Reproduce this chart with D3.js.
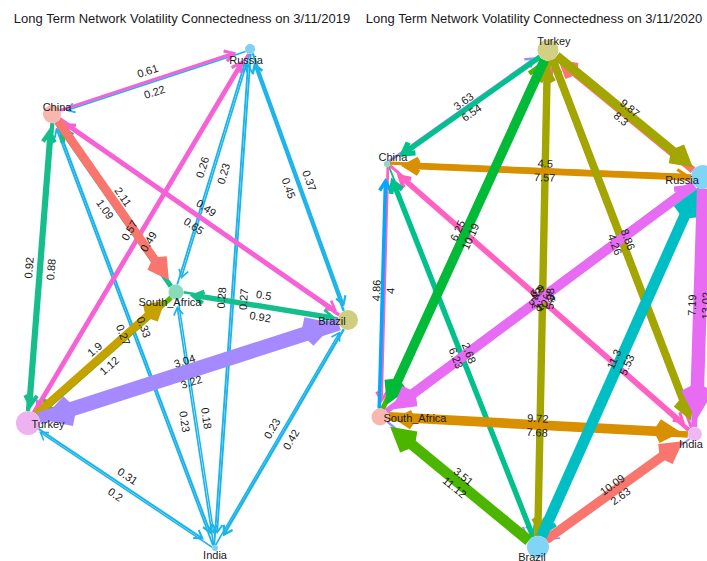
<!DOCTYPE html>
<meta charset="utf-8">
<head>
  <title>Long Term Network Volatility Connectedness</title>
</head>
<style>
    body {
        margin: 0;
        background-color: #ffffff;
    }
    svg text {
        font-family: "Liberation Sans", Arial, sans-serif;
        fill: #1a1a1a;
    }
</style>
<body>
    <svg id="chart" width="707" height="561"></svg>

    <script src="https://d3js.org/d3.v7.min.js"></script>

    <script>
        // ---- data ----
        var countries = ["Russia", "China", "South_Africa", "Brazil", "Turkey", "India"];

        var title2019 = "Long Term Network Volatility Connectedness on 3/11/2019";
        var title2020 = "Long Term Network Volatility Connectedness on 3/11/2020";

        // [from, to, connectedness]
        var edges2019 = [
            ["China", "Russia", 0.61], ["Russia", "China", 0.22],
            ["Turkey", "China", 0.92], ["China", "Turkey", 0.88],
            ["South_Africa", "China", 1.09], ["China", "South_Africa", 2.11],
            ["China", "India", 0.33], ["India", "China", 0.27],
            ["China", "Brazil", 0.49], ["Brazil", "China", 0.65],
            ["Turkey", "Russia", 0.57], ["Russia", "Turkey", 0.49],
            ["Russia", "South_Africa", 0.23], ["South_Africa", "Russia", 0.26],
            ["Russia", "India", 0.27], ["India", "Russia", 0.28],
            ["Russia", "Brazil", 0.37], ["Brazil", "Russia", 0.45],
            ["Turkey", "South_Africa", 1.9], ["South_Africa", "Turkey", 1.12],
            ["Turkey", "Brazil", 3.04], ["Brazil", "Turkey", 3.22],
            ["South_Africa", "Brazil", 0.5], ["Brazil", "South_Africa", 0.92],
            ["South_Africa", "India", 0.18], ["India", "South_Africa", 0.23],
            ["Brazil", "India", 0.42], ["India", "Brazil", 0.23],
            ["Turkey", "India", 0.31], ["India", "Turkey", 0.2]
        ];

        var edges2020 = [
            ["Turkey", "China", 6.54], ["China", "Turkey", 3.63],
            ["Turkey", "Russia", 9.87], ["Russia", "Turkey", 8.3],
            ["Turkey", "South_Africa", 10.19], ["South_Africa", "Turkey", 6.25],
            ["Turkey", "Brazil", 5.98], ["Brazil", "Turkey", 7.45],
            ["Turkey", "India", 8.86], ["India", "Turkey", 4.26],
            ["China", "Russia", 4.5], ["Russia", "China", 7.57],
            ["China", "South_Africa", 4], ["South_Africa", "China", 4.86],
            ["China", "India", 4.33], ["India", "China", 5.6],
            ["China", "Brazil", 2.68], ["Brazil", "China", 6.23],
            ["South_Africa", "Russia", 6.9], ["Russia", "South_Africa", 10.4],
            ["Russia", "India", 13.02], ["India", "Russia", 7.19],
            ["Russia", "Brazil", 5.53], ["Brazil", "Russia", 11.3],
            ["South_Africa", "India", 9.72], ["India", "South_Africa", 7.68],
            ["South_Africa", "Brazil", 3.51], ["Brazil", "South_Africa", 11.12],
            ["Brazil", "India", 10.09], ["India", "Brazil", 2.63]
        ];

        // ---- layout & style (not data) ----
        var layout2019 = {
            Russia: [0.388, -1], China: [-0.85, -0.739], South_Africa: [-0.075, -0.026],
            Brazil: [1, 0.086], Turkey: [-1, 0.499], India: [0.169, 1]
        };
        var layout2020 = {
            Turkey: [0.04, -1], China: [-0.957, -0.541], Russia: [1, -0.489],
            South_Africa: [-1, 0.477], India: [0.95, 0.545], Brazil: [-0.022, 1]
        };

        var radius2019 = { Russia: 5, China: 9, South_Africa: 7.5, Brazil: 10, Turkey: 12, India: 3 };
        var radius2020 = { Turkey: 10.5, China: 3, Russia: 12, South_Africa: 8.5, India: 7, Brazil: 11 };

        var fill2019 = { Russia: "#80d0f4", China: "#f7b6ae", South_Africa: "#88dcbc",
                         Brazil: "#cfcd80", Turkey: "#efb2f0", India: "#7fcff4" };
        var fill2020 = { Turkey: "#d2d083", China: "#88dcbc", Russia: "#80d4f6",
                         South_Africa: "#f7b6ae", India: "#efb8f2", Brazil: "#80d4f6" };

        var shift2019 = { Russia: [-4, 11], China: [5, -7], South_Africa: [-6, 10],
                          Brazil: [-16, 1], Turkey: [20, 1], India: [0, 7] };
        var shift2020 = { Turkey: [6, -9], China: [6, -7], Russia: [-21, 3],
                          South_Africa: [35, 1], India: [-4, 10], Brazil: [-6, 10] };

        var blue = "#1cb3ea", pink = "#f761d6", green = "#15bf8c", salmon = "#f8766d",
            purple = "#a58aff", olive = "#c5a200", lime = "#5cb300";
        var colors2019 = [
            pink, blue, green, green, green, salmon, blue, blue, pink, pink,
            pink, pink, blue, blue, blue, blue, blue, blue, olive, lime,
            purple, purple, green, green, blue, blue, blue, blue, blue, blue
        ];

        var olv = "#a3a500", sal = "#f8766d", grn = "#00ba38", lim = "#4cb500", teal = "#00c08b",
            lav = "#9590ff", org = "#d89000", mag = "#e76bf3", cya = "#00bfc4", pnk = "#ff61c3",
            blu = "#00a9ff";
        var colors2020 = [
            teal, lav, olv, sal, grn, lim, olv, olv, olv, pnk,
            org, org, pnk, blu, pnk, pnk, teal, teal, mag, mag,
            mag, mag, cya, cya, org, org, lav, lim, sal, lav
        ];

        var panels = [
            { title: title2019, edges: edges2019, colors: colors2019, layout: layout2019,
              radius: radius2019, fill: fill2019, shift: shift2019,
              xr: [28, 348], yr: [49, 548], titleX: 182, gap: 11,
              width: d3.scaleLinear().domain([0, 3.22]).range([0.8, 13]) },
            { title: title2020, edges: edges2020, colors: colors2020, layout: layout2020,
              radius: radius2020, fill: fill2020, shift: shift2020,
              xr: [380, 703], yr: [50, 547], titleX: 534, gap: 7,
              width: d3.scalePow().exponent(1.5).domain([0, 13.02]).range([0.6, 13.5]) }
        ];

        var svg = d3.select("#chart");

        panels.forEach(drawPanel);

        function drawPanel(p) {
            var sx = d3.scaleLinear().domain([-1, 1]).range(p.xr);
            var sy = d3.scaleLinear().domain([-1, 1]).range(p.yr);
            var g = svg.append("g");

            g.append("text")
                .attr("x", p.titleX)
                .attr("y", 23)
                .attr("text-anchor", "middle")
                .style("font-size", "13px")
                .text(p.title);

            var pos = {};
            countries.forEach(function(c) { pos[c] = [sx(p.layout[c][0]), sy(p.layout[c][1])]; });

            var links = p.edges.map(function(e, i) {
                var a = pos[e[0]], b = pos[e[1]];
                var dx = b[0] - a[0], dy = b[1] - a[1], len = Math.sqrt(dx * dx + dy * dy);
                var ux = dx / len, uy = dy / len;
                var vx = uy, vy = -ux;          // side this direction is drawn on
                var w = p.width(e[2]);
                var d = 1;
                var rs = Math.max(p.radius[e[0]], 3);
                var rt = Math.max(p.radius[e[1]] + 1, 14);
                var L = 6 + 0.9 * w, H = 4 + 0.45 * w;
                var back = (w / 2) * Math.sqrt(H * H + L * L) / H;
                var tip = [b[0] - ux * rt + vx * d, b[1] - uy * rt + vy * d];
                var vtx = [tip[0] - ux * back, tip[1] - uy * back];
                var ang = Math.atan2(dy, dx) * 180 / Math.PI;
                if (ang > 90) ang -= 180;
                if (ang < -90) ang += 180;
                return {
                    w: e[2], sw: w, color: p.colors[i], label: e[2],
                    x1: a[0] + ux * rs + vx * d, y1: a[1] + uy * rs + vy * d,
                    x2: vtx[0], y2: vtx[1],
                    head: [
                        [vtx[0] - ux * L - vx * H, vtx[1] - uy * L - vy * H],
                        vtx,
                        [vtx[0] - ux * L + vx * H, vtx[1] - uy * L + vy * H]
                    ],
                    lx: (a[0] + b[0]) / 2 + vx * p.gap,
                    ly: (a[1] + b[1]) / 2 + vy * p.gap,
                    ang: ang
                };
            });

            // strongest edges on top
            links.sort(function(a, b) { return a.w - b.w; });

            var edge = g.append("g").selectAll("g.edge")
                .data(links)
                .enter()
                .append("g")
                .attr("class", "edge");

            edge.append("line")
                .attr("x1", function(d) { return d.x1; })
                .attr("y1", function(d) { return d.y1; })
                .attr("x2", function(d) { return d.x2; })
                .attr("y2", function(d) { return d.y2; })
                .attr("stroke", function(d) { return d.color; })
                .attr("stroke-width", function(d) { return d.sw; });

            edge.append("path")
                .attr("d", function(d) { return d3.line()(d.head); })
                .attr("fill", "none")
                .attr("stroke", function(d) { return d.color; })
                .attr("stroke-width", function(d) { return d.sw; })
                .attr("stroke-linejoin", "miter");

            g.append("g").selectAll("text")
                .data(links)
                .enter()
                .append("text")
                .attr("transform", function(d) {
                    return "translate(" + d.lx + "," + d.ly + ") rotate(" + d.ang + ")";
                })
                .attr("text-anchor", "middle")
                .attr("dy", "0.35em")
                .style("font-size", "11px")
                .text(function(d) { return d.label; });

            g.append("g").selectAll("circle")
                .data(countries)
                .enter()
                .append("circle")
                .attr("cx", function(c) { return pos[c][0]; })
                .attr("cy", function(c) { return pos[c][1]; })
                .attr("r", function(c) { return p.radius[c]; })
                .attr("fill", function(c) { return p.fill[c]; });

            g.append("g").selectAll("text")
                .data(countries)
                .enter()
                .append("text")
                .attr("x", function(c) { return pos[c][0] + p.shift[c][0]; })
                .attr("y", function(c) { return pos[c][1] + p.shift[c][1]; })
                .attr("text-anchor", "middle")
                .attr("dy", "0.35em")
                .style("font-size", "11px")
                .text(function(c) { return c; });
        }
    </script>
</body>
